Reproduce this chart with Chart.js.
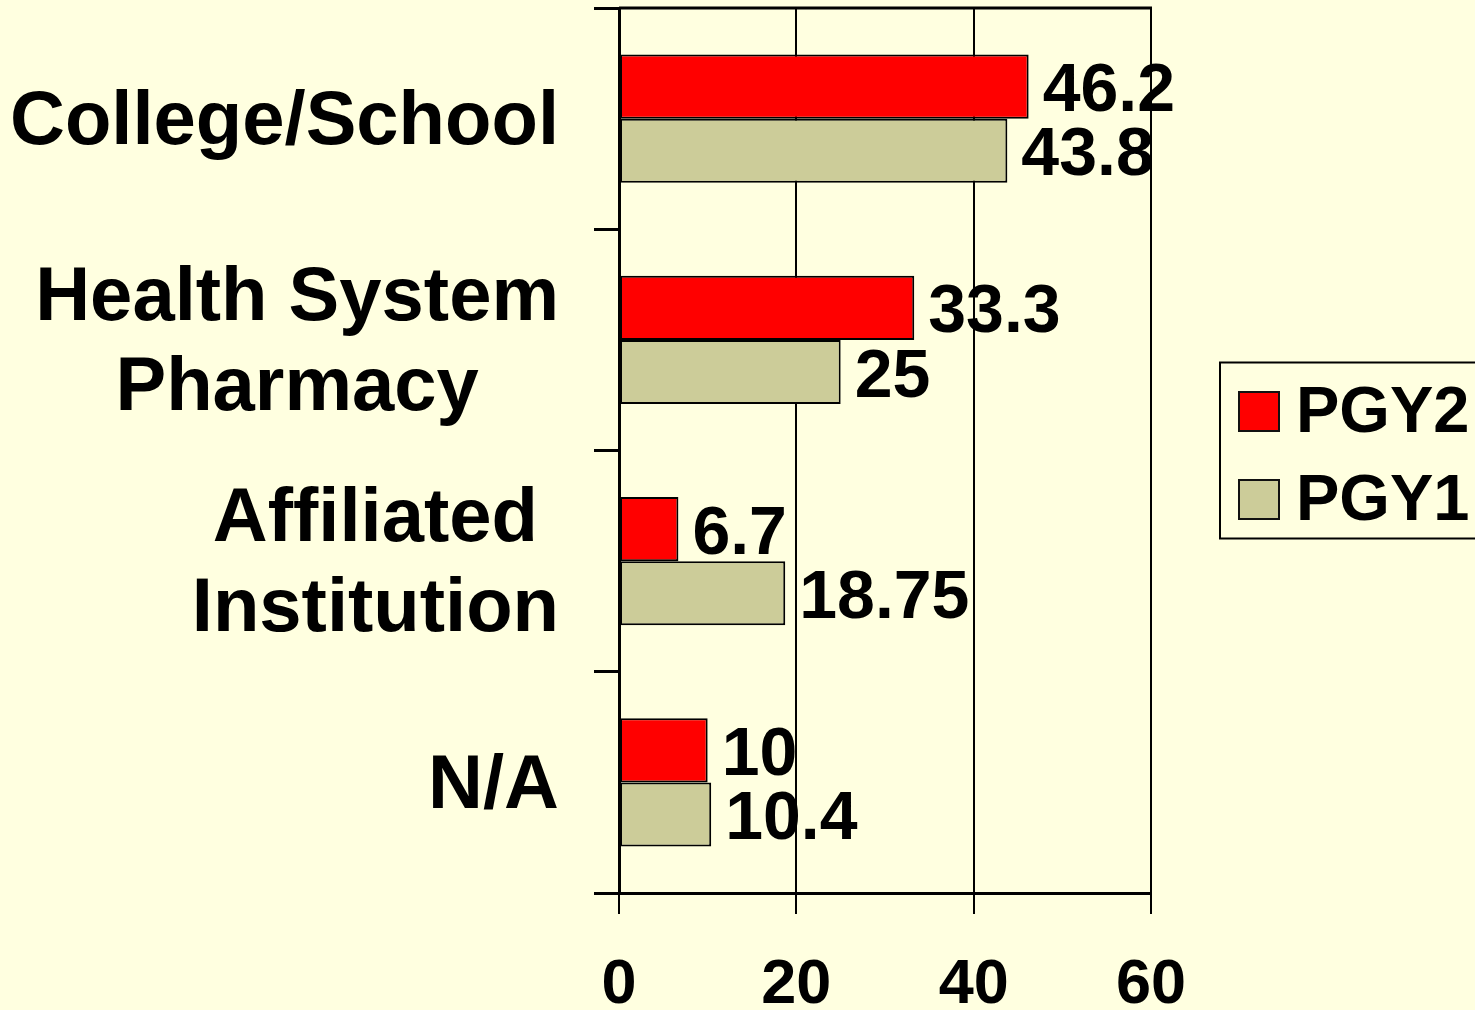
<!DOCTYPE html>
<html>
<head>
<meta charset="utf-8">
<title>PGY2 / PGY1</title>
<script src="https://cdn.jsdelivr.net/npm/chart.js@4.4.1/dist/chart.umd.min.js"></script>
<style>
  html, body { margin: 0; padding: 0; background: #ffffe0; overflow: hidden; }
  #wrap { position: relative; width: 1475px; height: 1010px; }
</style>
</head>
<body>
<div id="wrap"><canvas id="myChart"></canvas></div>
<script>
// DATOS
const categorias = [["College/School"], ["Health System", "Pharmacy"], ["Affiliated", "Institution"], ["N/A"]];
const series = ["PGY2", "PGY1"];
const pgy2 = [46.2, 33.3, 6.7, 10];
const pgy1 = [43.8, 25, 18.75, 10.4];
const ticksX = [0, 20, 40, 60];

const fuente = "'Liberation Sans', Arial, sans-serif";

// etiquetas de categoria: bloque alineado a la derecha, lineas centradas
const etiquetasCategoria = {
  id: "etiquetasCategoria",
  afterDraw(chart) {
    const ctx = chart.ctx;
    const yScale = chart.scales.y;
    const derecha = chart.chartArea.left - 60;
    ctx.save();
    ctx.font = "bold 76px " + fuente;
    ctx.fillStyle = "#000";
    ctx.textAlign = "center";
    ctx.textBaseline = "alphabetic";
    chart.data.labels.forEach((lineas, i) => {
      const cy = yScale.getPixelForValue(i) - 2;
      const ancho = Math.max(...lineas.map((l) => ctx.measureText(l).width));
      const cx = derecha - ancho / 2;
      const y0 = cy + 0.358 * 76 - ((lineas.length - 1) * 90) / 2;
      lineas.forEach((l, k) => ctx.fillText(l, cx, y0 + k * 90));
    });
    ctx.restore();
  },
};

// valores al final de cada barra
const valores = {
  id: "valores",
  afterDatasetsDraw(chart) {
    const ctx = chart.ctx;
    ctx.save();
    ctx.font = "bold 68px " + fuente;
    ctx.fillStyle = "#000";
    ctx.textAlign = "left";
    ctx.textBaseline = "alphabetic";
    chart.data.datasets.forEach((ds, i) => {
      chart.getDatasetMeta(i).data.forEach((bar, j) => {
        ctx.fillText(String(ds.data[j]), bar.x + 14, bar.y + 1 + 0.358 * 66);
      });
    });
    ctx.restore();
  },
};

// linea superior del area + leyenda con marco
const marcoYLeyenda = {
  id: "marcoYLeyenda",
  afterDraw(chart) {
    const { ctx, chartArea } = chart;
    ctx.save();
    ctx.strokeStyle = "#000";
    ctx.lineWidth = 3;
    ctx.beginPath();
    ctx.moveTo(chartArea.left, chartArea.top);
    ctx.lineTo(chartArea.right + 1, chartArea.top);
    ctx.stroke();

    const lx = chartArea.right + 69;
    const ly = (chartArea.top + chartArea.bottom) / 2 - 88;
    ctx.lineWidth = 2;
    ctx.strokeRect(lx, ly, 300, 176);
    ctx.font = "bold 65px " + fuente;
    ctx.textAlign = "left";
    ctx.textBaseline = "alphabetic";
    chart.data.datasets.forEach((ds, i) => {
      const cy = ly + 49 + i * 88;
      ctx.fillStyle = ds.backgroundColor;
      ctx.fillRect(lx + 19, cy - 19.5, 40, 39);
      ctx.lineWidth = 2;
      ctx.strokeStyle = "#111";
      ctx.strokeRect(lx + 19, cy - 19.5, 40, 39);
      ctx.fillStyle = "#000";
      ctx.fillText(ds.label, lx + 76, cy + 0.358 * 64 - 2);
    });
    ctx.restore();
  },
};

const ctxChart = document.getElementById("myChart");
new Chart(ctxChart, {
  type: "bar",
  data: {
    labels: categorias,
    datasets: [
      {
        label: series[0],
        data: pgy2,
        backgroundColor: "#ff0000",
        borderColor: "#000",
        borderWidth: 2,
        borderSkipped: false,
      },
      {
        label: series[1],
        data: pgy1,
        backgroundColor: "#cccc99",
        borderColor: "#000",
        borderWidth: 2,
        borderSkipped: false,
      },
    ],
  },
  plugins: [etiquetasCategoria, valores, marcoYLeyenda],
  options: {
    indexAxis: "y",
    responsive: true,
    maintainAspectRatio: false,
    animation: false,
    categoryPercentage: 0.58,
    barPercentage: 1.0,
    layout: {
      padding: { top: 8, right: 324, left: 0, bottom: 0 },
    },
    plugins: {
      legend: { display: false },
      tooltip: { enabled: false },
    },
    scales: {
      x: {
        min: ticksX[0],
        max: ticksX[ticksX.length - 1],
        ticks: {
          stepSize: ticksX[1] - ticksX[0],
          padding: 34,
          color: "#000",
          font: { family: fuente, size: 63, weight: "bold" },
        },
        grid: { color: "#000", lineWidth: 2, tickLength: 21 },
        border: { color: "#000", width: 3 },
        afterFit(scale) {
          scale.height = 117;
        },
      },
      y: {
        ticks: { display: false },
        grid: {
          drawOnChartArea: false,
          offset: true,
          color: "#000",
          lineWidth: 3,
          tickLength: 25,
        },
        border: { color: "#000", width: 3 },
        afterFit(scale) {
          scale.width = 619;
        },
      },
    },
  },
});
</script>
</body>
</html>
